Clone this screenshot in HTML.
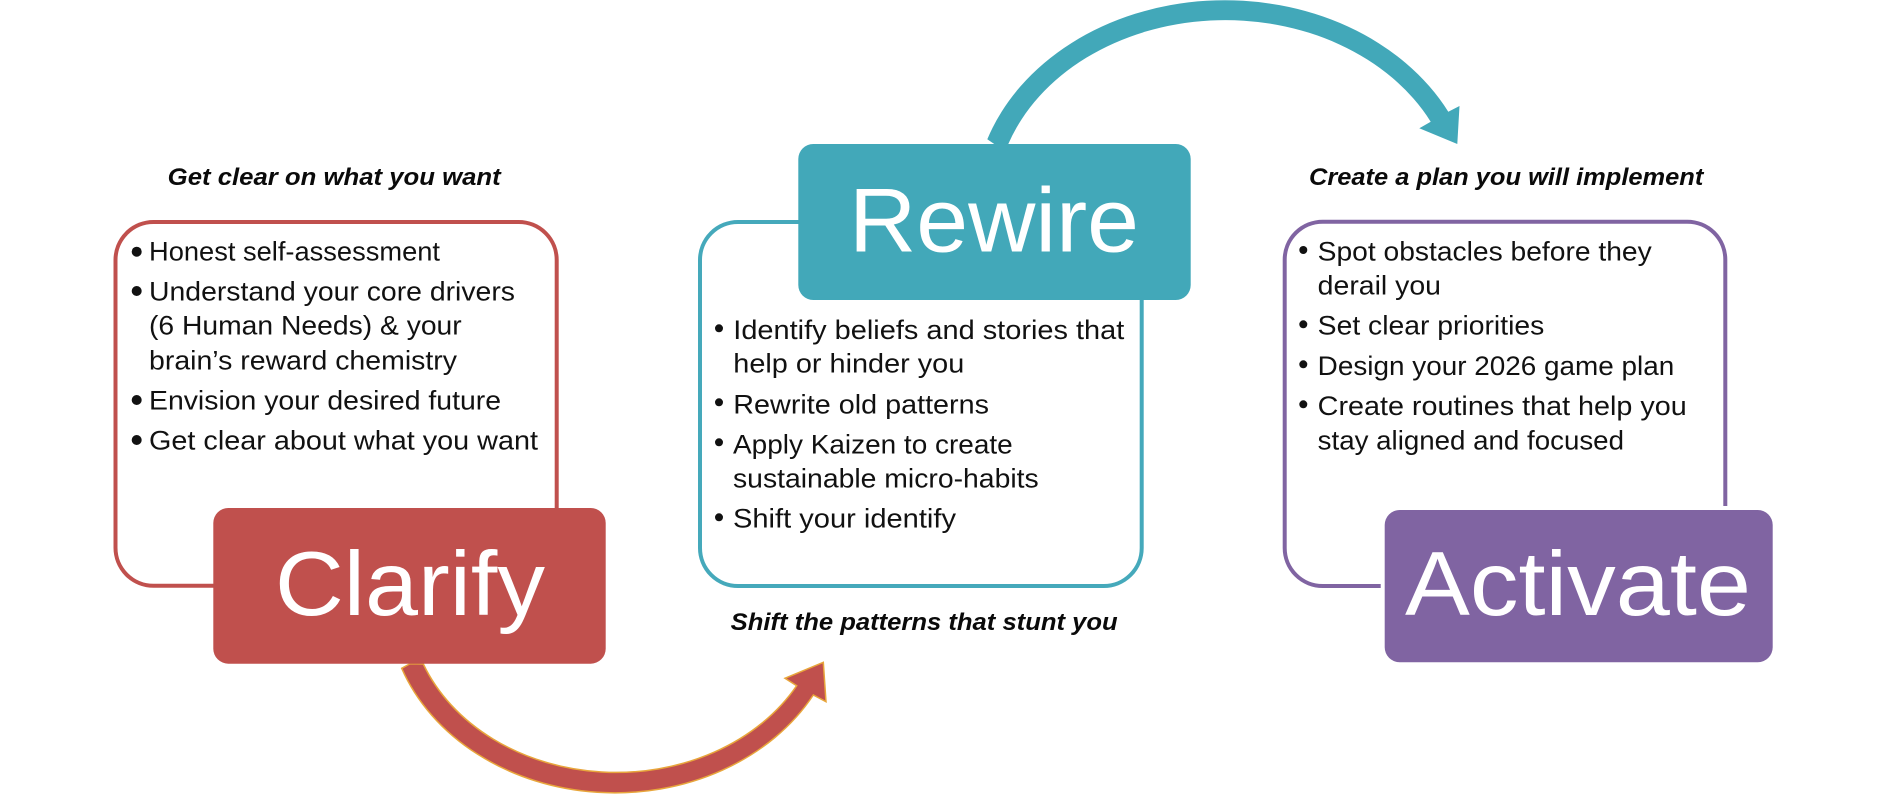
<!DOCTYPE html>
<html lang="en">
<head>
<meta charset="utf-8">
<title>Clarify, Rewire, Activate</title>
<style>
html,body{margin:0;padding:0;background:#fff;width:1891px;height:794px;overflow:hidden}
svg{display:block}
text{font-family:"Liberation Sans",sans-serif}
.b text{font-size:26.5px;fill:#111}
.h{font-size:24px;font-weight:bold;font-style:italic;fill:#0a0a0a}
.t{font-size:91px;fill:#fff}
</style>
</head>
<body>
<svg width="1891" height="794" viewBox="0 0 1891 794" xmlns="http://www.w3.org/2000/svg">
<rect width="1891" height="794" fill="#fff"/>

<!-- outline boxes -->
<rect x="115.5" y="222" width="441.2" height="363.8" rx="38" ry="38" fill="#fff" stroke="#c0504d" stroke-width="4"/>
<rect x="700" y="222" width="441.7" height="364" rx="38" ry="38" fill="#fff" stroke="#45a9bb" stroke-width="4"/>
<path d="M1380.7,586 H1322.7 A38,38 0 0 1 1284.7,548 V259.7 A38,38 0 0 1 1322.7,221.7 H1687.3 A38,38 0 0 1 1725.3,259.7 V506" fill="none" stroke="#8064a2" stroke-width="4"/>

<!-- teal arrow -->
<path d="M987.3,139.3 A251,205 0 0 1 1448.3,111.7 L1459.5,106 L1457.3,144 L1419.3,128.3 L1430.7,121.7 A230,185 0 0 0 1008.3,144 L1003,150 Z" fill="#42a8b9"/>

<!-- red arrow -->
<path d="M401.7,668.3 L410,663.7 L423.3,664 A207,170 0 0 0 796.7,685.7 L785,678.3 L823.3,662.3 L826,701.7 L813.3,695 A227,190 0 0 1 401.7,668.3 Z" fill="#c0504d" stroke="#e8a63c" stroke-width="1.5" stroke-linejoin="miter"/>

<!-- solid title boxes -->
<rect x="213.3" y="508" width="392.4" height="155.7" rx="15" ry="15" fill="#c0504d"/>
<text class="t" x="275" y="615" textLength="270" lengthAdjust="spacingAndGlyphs">Clarify</text>

<rect x="798.3" y="144" width="392.4" height="156" rx="15" ry="15" fill="#42a8b9"/>
<text class="t" x="849" y="251.7" textLength="290" lengthAdjust="spacingAndGlyphs">Rewire</text>

<rect x="1384.7" y="510" width="388" height="152.3" rx="15" ry="15" fill="#8064a2"/>
<text class="t" x="1405" y="615" textLength="346" lengthAdjust="spacingAndGlyphs">Activate</text>

<!-- headings -->
<text class="h" x="167.7" y="185" textLength="333" lengthAdjust="spacingAndGlyphs">Get clear on what you want</text>
<text class="h" x="730.7" y="630" textLength="387" lengthAdjust="spacingAndGlyphs">Shift the patterns that stunt you</text>
<text class="h" x="1309" y="185" textLength="394.3" lengthAdjust="spacingAndGlyphs">Create a plan you will implement</text>

<!-- left list -->
<g class="b">
<circle cx="136.7" cy="251.7" r="5" fill="#111"/>
<circle cx="136.7" cy="291" r="5" fill="#111"/>
<circle cx="136.7" cy="400" r="5" fill="#111"/>
<circle cx="136.7" cy="440" r="5" fill="#111"/>
<text x="149" y="260.7" textLength="291" lengthAdjust="spacingAndGlyphs">Honest self-assessment</text>
<text x="149" y="300.7" textLength="366" lengthAdjust="spacingAndGlyphs">Understand your core drivers</text>
<text x="149" y="334.7" textLength="312.7" lengthAdjust="spacingAndGlyphs">(6 Human Needs) &amp; your</text>
<text x="149" y="369.3" textLength="308" lengthAdjust="spacingAndGlyphs">brain’s reward chemistry</text>
<text x="149" y="409.3" textLength="352" lengthAdjust="spacingAndGlyphs">Envision your desired future</text>
<text x="149" y="449.3" textLength="389" lengthAdjust="spacingAndGlyphs">Get clear about what you want</text>
</g>

<!-- middle list -->
<g class="b">
<circle cx="719" cy="328.3" r="4" fill="#111"/>
<circle cx="719" cy="402.3" r="4" fill="#111"/>
<circle cx="719" cy="442.3" r="4" fill="#111"/>
<circle cx="719" cy="517.3" r="4" fill="#111"/>
<text x="733.3" y="339" textLength="391" lengthAdjust="spacingAndGlyphs">Identify beliefs and stories that</text>
<text x="733.3" y="372.7" textLength="231" lengthAdjust="spacingAndGlyphs">help or hinder you</text>
<text x="733.3" y="413.3" textLength="255.7" lengthAdjust="spacingAndGlyphs">Rewrite old patterns</text>
<text x="733" y="453.3" textLength="279.7" lengthAdjust="spacingAndGlyphs">Apply Kaizen to create</text>
<text x="733" y="487.7" textLength="305.7" lengthAdjust="spacingAndGlyphs">sustainable micro-habits</text>
<text x="733" y="527.7" textLength="223" lengthAdjust="spacingAndGlyphs">Shift your identify</text>
</g>

<!-- right list -->
<g class="b">
<circle cx="1303.3" cy="250" r="4" fill="#111"/>
<circle cx="1303.3" cy="324.3" r="4" fill="#111"/>
<circle cx="1303.3" cy="364.3" r="4" fill="#111"/>
<circle cx="1303.3" cy="404.3" r="4" fill="#111"/>
<text x="1317.7" y="260.7" textLength="334" lengthAdjust="spacingAndGlyphs">Spot obstacles before they</text>
<text x="1317.7" y="294.3" textLength="123.3" lengthAdjust="spacingAndGlyphs">derail you</text>
<text x="1317.7" y="334.3" textLength="226.6" lengthAdjust="spacingAndGlyphs">Set clear priorities</text>
<text x="1317.7" y="375" textLength="356.6" lengthAdjust="spacingAndGlyphs">Design your 2026 game plan</text>
<text x="1317.7" y="415" textLength="369" lengthAdjust="spacingAndGlyphs">Create routines that help you</text>
<text x="1317.7" y="449.3" textLength="306.3" lengthAdjust="spacingAndGlyphs">stay aligned and focused</text>
</g>
</svg>
</body>
</html>
